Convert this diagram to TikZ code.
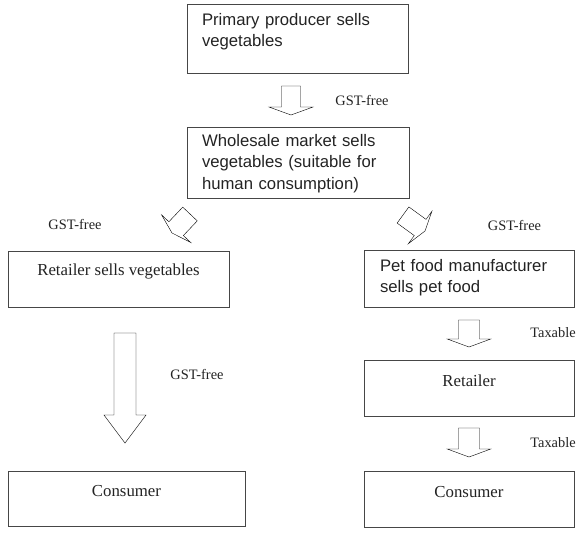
\documentclass[tikz,border=0pt]{standalone}
\usepackage{fontspec}
\setmainfont{Liberation Serif}
\newfontfamily\arialfont{Liberation Sans}
\usetikzlibrary{calc}
\definecolor{boxline}{RGB}{70,70,70}
\definecolor{inkgray}{RGB}{35,35,35}

\begin{document}
\begin{tikzpicture}[x=1pt, y=-1pt,
    flowbox/.style={draw=boxline, line width=1pt, inner sep=0pt, text=inkgray, text height=12pt},
    sansbox/.style={flowbox, font=\arialfont\fontsize{16.7}{21.5}\selectfont, align=left},
    serifbox/.style={flowbox, font=\fontsize{16.8}{20}\selectfont, align=center},
    taxnote/.style={text=inkgray, font=\fontsize{14.4}{16}\selectfont, inner sep=0pt},
    fat/.style n args={3}{draw=boxline, line width=0.9pt, to path={
        ($(\tikztostart)!#1!90:(\tikztotarget)$)
        -- ($(\tikztotarget)!#3!(\tikztostart)!#1!-90:(\tikztostart)$)
        -- ($(\tikztotarget)!#3!(\tikztostart)!#2!-90:(\tikztostart)$)
        -- (\tikztotarget)
        -- ($(\tikztotarget)!#3!(\tikztostart)!#2!90:(\tikztostart)$)
        -- ($(\tikztotarget)!#3!(\tikztostart)!#1!90:(\tikztostart)$)
        -- ($(\tikztostart)!#1!-90:(\tikztotarget)$)
        -- cycle}},
]
    \useasboundingbox (0,0) rectangle (580,536);

    % boxes of the chain
    \node[sansbox, minimum width=221pt, minimum height=69pt, text width=191pt, text depth=39pt] (producer) at (297.5,38.5) {Primary producer sells\\vegetables};
    \node[sansbox, minimum width=222pt, minimum height=71pt, text width=192pt, text depth=45pt] (wholesale) at (298,162.5) {Wholesale market sells\\vegetables (suitable for\\human consumption)};
    \node[serifbox, minimum width=221pt, minimum height=56pt, text depth=20pt] (vegretail) at (118.5,279) {Retailer sells vegetables};
    \node[sansbox, minimum width=210pt, minimum height=57pt, text width=178pt, text depth=27pt] (petfood) at (469,278.5) {Pet food manufacturer\\sells pet food};
    \node[serifbox, minimum width=237pt, minimum height=55pt, text depth=17pt] (vegconsumer) at (126.5,498.5) {Consumer};
    \node[serifbox, minimum width=210pt, minimum height=56pt, text depth=16pt] (petretail) at (469,388) {Retailer};
    \node[serifbox, minimum width=210pt, minimum height=56pt, text depth=15pt] (petconsumer) at (469,499) {Consumer};

    % block arrows
    \coordinate (prodtail) at (291,86);    \coordinate (prodtip) at (291,115);
    \coordinate (lefttail) at (190,214);   \coordinate (lefttip) at (172,233);
    \coordinate (righttail) at (403,215);  \coordinate (righttip) at (425,231);
    \coordinate (vegtail) at (125,333);    \coordinate (vegtip) at (125,443);
    \coordinate (pettail) at (469,320);    \coordinate (pettip) at (469,347);
    \coordinate (shoptail) at (469,428);   \coordinate (shoptip) at (469,457);
    \draw (prodtail) to[fat={9.5pt}{22pt}{8pt}] (prodtip);
    \draw (lefttail) to[fat={10pt}{20pt}{6pt}] (lefttip);
    \draw (righttail) to[fat={10pt}{20pt}{6pt}] (righttip);
    \draw (vegtail) to[fat={11pt}{21pt}{28pt}] (vegtip);
    \draw (pettail) to[fat={10.5pt}{21.7pt}{8pt}] (pettip);
    \draw (shoptail) to[fat={10.5pt}{21.7pt}{8pt}] (shoptip);

    % tax notes
    \node[taxnote] (freeone) at (362,100) {GST-free};
    \node[taxnote] (freeleft) at (75,224) {GST-free};
    \node[taxnote] (freeright) at (514.5,225) {GST-free};
    \node[taxnote] (freeveg) at (197,374) {GST-free};
    \node[taxnote] (taxone) at (553,333) {Taxable};
    \node[taxnote] (taxtwo) at (553,443) {Taxable};
\end{tikzpicture}
\end{document}
